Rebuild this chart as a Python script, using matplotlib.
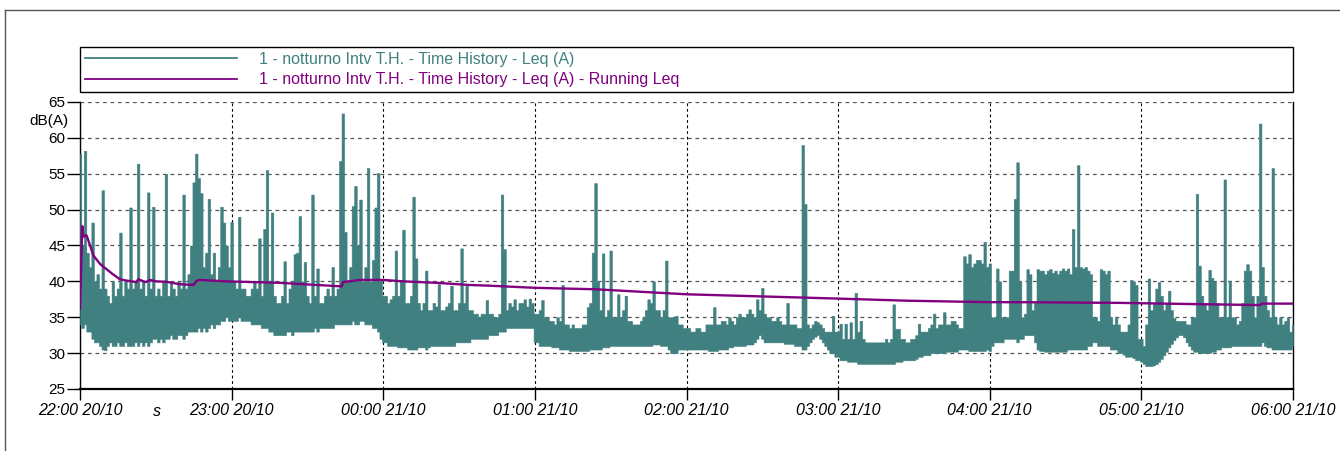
import matplotlib
matplotlib.use('Agg')
import matplotlib.pyplot as plt
from matplotlib.lines import Line2D

plt.rcParams['font.family'] = ['Liberation Sans', 'DejaVu Sans']

# Leq (A), per minute: lowest (lo_*) and highest (hi_*) value
# reached inside that minute, one list pair per hour (22:00 -> 06:00).
lo_22 = [34, 33.5, 34, 33, 33, 32, 31.5, 31.5, 31, 30.5,
         30.4, 31, 31.5, 31, 31, 31.5, 31, 31, 31.5, 31,
         31, 31, 31.5, 31, 31.5, 31, 31.5, 31, 31.5, 32,
         32, 31.5, 32, 31.5, 32, 32, 32.5, 32, 32, 32.5,
         32.5, 32, 32.5, 33, 33, 33, 33, 33.5, 33, 33.5,
         33, 33.5, 34, 33.5, 34, 34, 34.5, 34.5, 35, 34.5]
hi_22 = [57.8, 45, 58.2, 44, 42, 48.2, 40, 41, 39, 52.7,
         39, 38, 37, 40, 38, 39, 46.8, 38, 40, 39,
         50.3, 39, 40, 56.4, 39, 40, 38, 52.4, 39, 50.4,
         38, 39, 38, 40, 55, 38, 40, 39, 38, 40,
         39, 52.1, 39, 41, 45, 53.8, 57.8, 54.4, 52.3, 42,
         44, 51.5, 41, 44, 40, 42, 50.4, 48.2, 45, 42]
lo_23 = [34.5, 34.5, 34.5, 35, 34.5, 34.5, 34.5, 34.5, 34, 34,
         34, 34, 33.5, 33.5, 33.5, 33, 33, 32.5, 32.5, 32.5,
         32.5, 32.5, 33, 33, 32.5, 33, 33, 33, 33, 33,
         33, 33, 33, 33.5, 33, 33.5, 33.5, 33.5, 33.5, 33.5,
         33.5, 34, 34, 34, 34, 34, 34, 34, 34.5, 34,
         34, 34.5, 34.5, 34, 34, 34, 33.5, 33.5, 33, 32]
hi_23 = [48.3, 40, 39, 49, 39, 39, 38, 38, 39, 40,
         39, 46, 38, 47.3, 55.5, 40, 49.6, 38, 37, 37,
         38, 42.8, 37, 39, 40, 43.8, 44, 49.1, 40, 42.7,
         38, 37, 52.1, 38, 41.8, 37, 37, 38, 39, 38,
         42, 38, 39, 56.8, 63.4, 46.9, 40, 42, 50.5, 53.3,
         45, 51.4, 40, 42, 55.8, 40, 43, 50.3, 55.1, 40]
lo_00 = [31.5, 31.5, 31, 31, 31, 31, 30.8, 30.8, 30.8, 30.8,
         30.5, 30.5, 30.5, 30.5, 30.8, 30.8, 30.8, 30.5, 30.8, 31,
         31, 31, 31, 31, 31, 31, 31, 31, 31, 31.5,
         31.5, 31.5, 31.5, 31.5, 31.5, 32, 32, 32, 32, 32,
         32, 32, 32.5, 32.5, 32.5, 32.5, 33, 33, 33, 33.5,
         33.5, 33.5, 33.5, 33.5, 33.5, 33.5, 33.5, 33.5, 33.5, 33.5]
hi_00 = [38, 38, 37, 37.5, 38, 44.3, 38, 40, 47.2, 37,
         37, 38, 51.8, 43.2, 37, 36, 37, 41.5, 36, 36,
         37, 36.5, 39.6, 36, 36, 36.5, 37, 39.4, 36, 36,
         37, 44.6, 37, 39.4, 36, 36, 35.5, 35.5, 35, 35.5,
         35.5, 37.4, 35.5, 35.5, 35, 35, 35.5, 52.1, 44.5, 36,
         37, 36.5, 37.5, 36, 37, 37, 37.5, 36.5, 37.6, 37]
lo_01 = [31.5, 31.5, 31, 31, 31, 31, 31, 30.8, 30.8, 30.8,
         30.5, 30.5, 30.5, 30.5, 30.3, 30.3, 30.3, 30.3, 30.3, 30.3,
         30.3, 30.3, 30.5, 30.5, 30.5, 30.5, 30.5, 30.8, 30.8, 30.8,
         31, 31, 31, 31, 31, 31, 31, 31, 31, 31,
         31, 31, 31, 31, 31, 31, 31, 31.2, 31.2, 31.2,
         31, 31, 31, 30.5, 30, 30, 30, 30.5, 30.5, 30.5]
hi_01 = [35.5, 35.5, 36, 37.4, 35, 35, 34.5, 34.5, 34, 35,
         34.5, 39.5, 34, 34, 33.5, 34, 33.5, 33.5, 33.5, 34,
         34, 36.4, 37, 44, 53.7, 40, 36, 43.9, 35, 36,
         44.3, 35, 35, 38.2, 35, 36, 38, 34.5, 34.5, 34,
         34, 34, 34.5, 35, 36, 37.5, 37, 40, 36, 36,
         35, 36, 42.9, 35, 35, 35, 35.2, 34, 34, 33.5]
lo_02 = [30.5, 30.5, 30.5, 30.5, 30.5, 30.5, 30.5, 30.5, 30.5, 30.3,
         30.3, 30.3, 30.3, 30.5, 30.5, 30.5, 30.5, 30.8, 30.8, 31,
         31, 31, 31, 31, 31.2, 31.2, 31.2, 31.5, 32, 32.5,
         32, 31.5, 31.5, 31.5, 31.5, 31.5, 31.5, 31.5, 31.5, 31.3,
         31.3, 31.3, 31.3, 31, 31, 31, 30.5, 30.5, 31, 31.5,
         32, 32.3, 32.5, 32, 31.5, 31, 30.5, 30, 30, 29.5]
hi_02 = [33.5, 33.5, 33, 33, 33.5, 33.5, 33, 33, 34, 34,
         34, 36.4, 34, 34, 34.5, 34.5, 34, 35, 34.5, 34,
         35, 35.5, 35, 35, 35.5, 36.1, 35.5, 35, 37.5, 36,
         39.1, 35.5, 35, 35, 34.5, 34.5, 35, 34.5, 34, 34,
         37, 34, 34, 34, 33.5, 33.5, 59, 50.8, 34, 33.5,
         34, 34.5, 34.3, 34, 33.5, 33, 33, 33, 35.2, 33]
lo_03 = [29.5, 29, 29, 29, 28.8, 28.8, 28.8, 28.8, 28.5, 28.5,
         28.5, 28.5, 28.5, 28.5, 28.5, 28.5, 28.5, 28.5, 28.5, 28.5,
         28.5, 28.5, 28.5, 28.8, 28.8, 28.8, 29, 29, 29, 29,
         29, 29.2, 29.5, 29.5, 29.7, 29.7, 29.7, 30, 30, 30,
         30, 30, 30, 30.2, 30.2, 30.2, 30.2, 30.2, 30.5, 30.5,
         30.5, 30.5, 30.3, 30.3, 30.3, 30.3, 30.3, 30.3, 30.3, 30.5]
hi_03 = [33, 34.1, 32, 34.1, 32, 34.3, 32, 38.4, 33, 34.5,
         32, 31.5, 31.5, 31.5, 31.5, 31.5, 31.5, 31.5, 31.5, 32,
         31.5, 32, 36.8, 33.4, 33.4, 32, 32, 31.5, 31.5, 32,
         32, 32.5, 34.1, 33, 33, 33, 33.5, 34, 35.5, 33.5,
         34, 34, 35.7, 34, 34, 34.5, 34.5, 34, 33.5, 33.5,
         43.5, 42.5, 43.8, 42, 42.5, 43, 43, 42.5, 45.5, 42]
lo_04 = [30.3, 31, 31.5, 31.5, 31.5, 31.5, 32, 32, 32, 32,
         32, 31.5, 32, 32, 32.5, 32.5, 32.5, 32.5, 31.5, 30.5,
         30.3, 30.3, 30.2, 30.2, 30.2, 30.2, 30.2, 30.2, 30.2, 30.2,
         30.2, 30.5, 30.5, 30.5, 30.5, 30.5, 30.5, 30.5, 30.5, 31,
         31, 31.5, 31.5, 31, 31, 31, 31, 31, 30.5, 30.5,
         30.5, 30, 30, 29.8, 29.5, 29.5, 29.5, 29.3, 29, 29]
hi_04 = [42.5, 35, 35, 41.8, 40, 35, 35, 35, 41.5, 41.5,
         51.5, 56.6, 40, 35, 35.5, 41.7, 41, 36, 37, 41.7,
         41.5, 41.5, 41, 41.5, 41.7, 41.2, 41.5, 41, 41.5, 41.8,
         41.5, 41.8, 41, 47.3, 42, 56.2, 42, 41.8, 42, 41.5,
         41, 35, 35, 34.5, 41.7, 41.5, 41, 41.5, 35, 34,
         35, 34, 33, 33, 33, 34, 40.2, 40, 39.5, 32]
lo_05 = [28.8, 28.5, 28.2, 28.2, 28.2, 28.3, 28.5, 28.8, 29.2, 29.7,
         30.2, 30.8, 31.3, 31.8, 32.2, 32.5, 32.5, 32.2, 31.5, 31,
         30.5, 30.2, 30.2, 30, 30, 30, 30, 30, 30.2, 30.2,
         30.5, 30.5, 30.8, 30.8, 30.8, 30.8, 31, 31, 31, 31,
         31, 31, 31, 31, 31, 31, 31, 31, 31.5, 31,
         30.8, 30.8, 30.5, 30.5, 30.5, 30.5, 30.5, 30.5, 30.5, 30.5, 31]
hi_05 = [32, 31, 34, 40.4, 36, 37, 39, 39.9, 38, 36,
         37, 38.7, 36, 34.9, 34.5, 34.5, 34.5, 34.5, 34, 34,
         35, 35, 52.2, 42.2, 38, 37, 36, 41.6, 40.5, 40,
         37, 35, 35, 54.2, 35, 40.1, 35, 35, 34, 34.5,
         37, 41.5, 42.4, 41.5, 38, 35, 38, 62, 42, 38,
         36, 35, 55.8, 35, 34, 35, 34, 34.5, 35, 33, 34]

# Running Leq, read at breakpoints (minutes from 22:00, dB(A))
run_t = [0, 0.9, 1.3, 2, 2.6, 4, 5.3, 8, 10.5, 13, 15.8, 18.5, 22.4, 23, 26,
         27.7, 30, 34, 39.6, 44.9, 46.2, 47.5, 58, 79, 103.6, 104, 111, 120,
         128, 141, 154, 162, 180, 204, 240, 300, 328, 360, 372, 412, 447, 467,
         467.6, 480]
run_v = [36.2, 47.7, 46.2, 46.4, 46.4, 45, 43.6, 42.4, 41.7, 41, 40.3, 40.1,
         39.9, 40.3, 39.9, 40.2, 40, 39.95, 39.6, 39.5, 40.1, 40.2, 40, 39.8,
         39.3, 39.9, 40.2, 40.2, 40, 39.8, 39.5, 39.4, 39.1, 38.9, 38.2, 37.6,
         37.3, 37.1, 37.1, 37.0, 36.8, 36.7, 36.9, 36.9]

hour_ticks = [0, 60, 120, 180, 240, 300, 360, 420, 480]
hour_labels = ['22:00 20/10', '23:00 20/10', '00:00 21/10', '01:00 21/10',
               '02:00 21/10', '03:00 21/10', '04:00 21/10', '05:00 21/10',
               '06:00 21/10']
y_ticks = [25, 30, 35, 40, 45, 50, 55, 60, 65]

series_names = ['1 - notturno Intv T.H. - Time History - Leq (A)',
                '1 - notturno Intv T.H. - Time History - Leq (A) - Running Leq']
teal = '#408080'
purple = '#800080'

W, H = 1340, 451
fig = plt.figure(figsize=(W / 100, H / 100), dpi=100)
ax = fig.add_axes([80 / W, 1 - 389 / H, (1293 - 80) / W, (389 - 102) / H])

lo = lo_22 + lo_23 + lo_00 + lo_01 + lo_02 + lo_03 + lo_04 + lo_05
hi = hi_22 + hi_23 + hi_00 + hi_01 + hi_02 + hi_03 + hi_04 + hi_05
minutes = list(range(len(lo)))

# each minute is drawn as a thin column from its low to its high value
ax.fill_between(minutes, lo, hi, step='mid', facecolor=teal, edgecolor=teal,
                lw=0.4, zorder=3)
ax.plot(run_t, run_v, color=purple, lw=1.7, zorder=4)

ax.set_xlim(0, 480)
ax.set_ylim(25, 65)
ax.set_xticks(hour_ticks)
ax.set_xticklabels(hour_labels, fontsize=11.5, style='italic')
ax.set_yticks(y_ticks)
ax.set_yticklabels([str(v) for v in y_ticks], fontsize=11)
ax.tick_params(axis='y', length=9.5, width=1, pad=1, direction='out')
ax.tick_params(axis='x', length=8, width=1, pad=2, direction='out')

ax.set_axisbelow(True)
ax.yaxis.grid(True, color='#555555', ls=(0, (3, 3)), lw=0.9)
ax.xaxis.grid(True, color='black', ls=(0, (2.5, 2.5)), lw=0.8)

ax.spines['top'].set_visible(False)
ax.spines['left'].set_linewidth(1.0)
ax.spines['right'].set_linewidth(1.0)
ax.spines['bottom'].set_linewidth(1.6)

handles = [Line2D([], [], color=teal, lw=1.3), Line2D([], [], color=purple, lw=1.3)]
leg = ax.legend(handles, series_names, loc='lower left',
                bbox_to_anchor=(0, (389 - 92) / 287, 1, (92 - 45) / 287),
                mode='expand', borderaxespad=0, handlelength=9.5, handletextpad=1.4,
                fontsize=11.5, fancybox=False, edgecolor='black', framealpha=1,
                labelspacing=0.35, borderpad=0.3)
leg.get_frame().set_linewidth(1.0)
for txt, col in zip(leg.get_texts(), [teal, purple]):
    txt.set_color(col)

fig.text(68 / W, 1 - 121 / H, 'dB(A)', ha='right', va='center', fontsize=11)
fig.text(157 / W, 1 - 411 / H, 's', ha='center', va='center', fontsize=11.5, style='italic')

fig.add_artist(Line2D([5 / W, 5 / W], [0, 1 - 10 / H], transform=fig.transFigure,
                      color='#555555', lw=1))
fig.add_artist(Line2D([5 / W, 1], [1 - 10 / H, 1 - 10 / H], transform=fig.transFigure,
                      color='#555555', lw=1))

fig.savefig('out.png', dpi=100)
